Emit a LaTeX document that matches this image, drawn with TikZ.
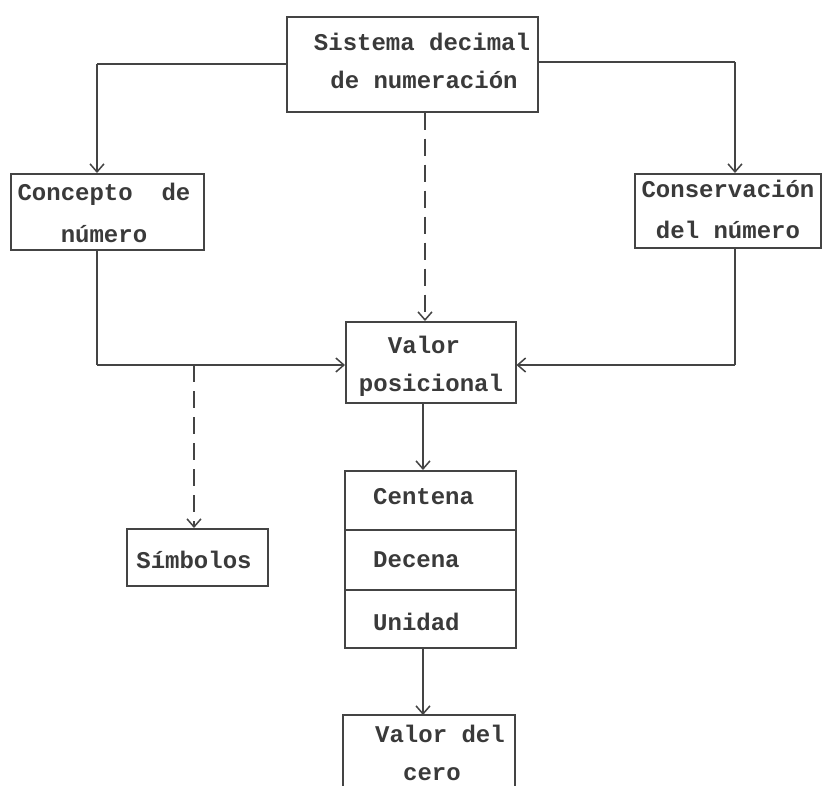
\documentclass[tikz,border=0pt]{standalone}
\usepackage{fontspec}
\setmonofont{Liberation Mono}
\usetikzlibrary{arrows.meta}
\definecolor{ink}{HTML}{444444}
\definecolor{textink}{HTML}{3A3A3A}
\tikzset{
  box/.style={draw=ink, line width=1.5pt, inner sep=0pt, anchor=north west},
  txt/.style={font=\ttfamily\bfseries\fontsize{24}{24}\selectfont, text=textink, inner sep=0pt, anchor=base},
  link/.style={draw=ink, line width=1.5pt},
  arr/.style={link, -{Straight Barb[length=8pt,width=14pt,line width=1.5pt]}},
  dashline/.style={dash pattern=on 17pt off 9pt},
}
\begin{document}
\begin{tikzpicture}[x=1pt,y=-1pt]
\path[use as bounding box, clip] (0,0) rectangle (822,785);
\fill[white] (0,0) rectangle (822,785);
% boxes
\node[box, minimum width=251pt, minimum height=95pt] (top) at (286,16) {};
\node[box, minimum width=193pt, minimum height=76pt] (con) at (10,173) {};
\node[box, minimum width=186pt, minimum height=74pt] (cons) at (634,173) {};
\node[box, minimum width=170pt, minimum height=81pt] (val) at (345,321) {};
\node[box, minimum width=141pt, minimum height=57pt] (sim) at (126,528) {};
\node[box, minimum width=171pt, minimum height=59pt] (cen) at (344,470) {};
\node[box, minimum width=171pt, minimum height=60pt] (dec) at (344,529) {};
\node[box, minimum width=171pt, minimum height=58pt] (uni) at (344,589) {};
\path[link] (343,800) -- (343,715) coordinate (cerotl) -- (515,715) coordinate (cerotr) -- (515,800);
% texts
\node[txt] (t1) at (422,50) {Sistema decimal};
\node[txt] (t2) at (424,88) {de numeración};
\node[txt] (c1) at (104,200) {Concepto\ \ de};
\node[txt] (c2) at (104,242) {número};
\node[txt] (s1) at (728,197) {Conservación};
\node[txt] (s2) at (728,238) {del número};
\node[txt] (v1) at (424,353) {Valor};
\node[txt] (v2) at (431,391) {posicional};
\node[txt, anchor=base west] (ce) at (373,504) {Centena};
\node[txt, anchor=base west] (de) at (373,567) {Decena};
\node[txt, anchor=base west] (un) at (373,630) {Unidad};
\node[txt] (sy) at (194,568) {Símbolos};
\node[txt] (z1) at (440,742) {Valor del};
\node[txt] (z2) at (432,780) {cero};
% coordinates
\coordinate (jl) at (97,64);
\coordinate (jr) at (735,62);
\coordinate (ml) at (97,365);
\coordinate (mr) at (735,365);
\coordinate (ds) at (194,365);
\coordinate (dc) at (425,0);
\coordinate (vc) at (423,0);
% connectors
\draw[link] (top.west |- jl) -- (jl);
\draw[arr] (jl) -- (jl |- con.north);
\draw[link] (top.east |- jr) -- (jr);
\draw[arr] (jr) -- (jr |- cons.north);
\draw[link] (ml |- con.south) -- (ml);
\draw[arr] (ml) -- (val.west |- ml);
\draw[link] (mr |- cons.south) -- (mr);
\draw[arr] (mr) -- (val.east |- mr);
\draw[arr, dashline] (dc |- top.south) -- (dc |- val.north);
\draw[arr, dashline] (ds) -- (ds |- sim.north);
\draw[arr] (vc |- val.south) -- (vc |- cen.north);
\draw[arr] (vc |- uni.south) -- (vc |- cerotl);
\end{tikzpicture}
\end{document}
